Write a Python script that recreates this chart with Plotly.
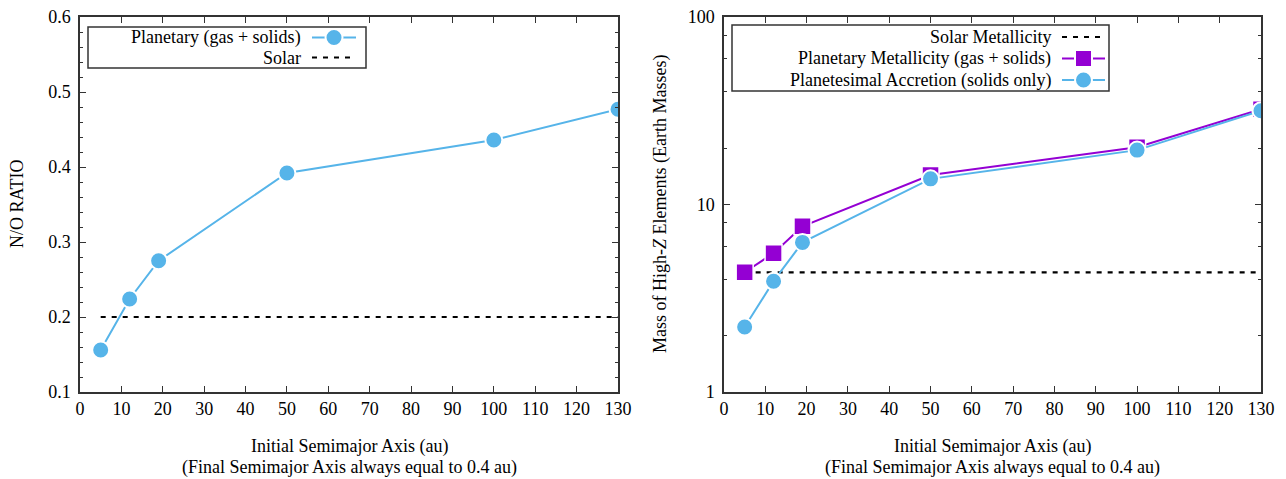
import plotly.graph_objects as go

# ---- data ----
a_init = [5, 12, 19, 50, 100, 130]
no_ratio = [0.156, 0.224, 0.275, 0.392, 0.436, 0.477]
solar_no = 0.2
solar_x = [5, 130]

planet_metal = [4.35, 5.5, 7.65, 14.35, 20.2, 32.2]
planetesimal = [2.22, 3.9, 6.28, 13.7, 19.5, 31.6]
solar_metal = 4.35

x_ticks = list(range(0, 131, 10))
left_y_ticks = [0.1, 0.2, 0.3, 0.4, 0.5, 0.6]
right_y_ticks = [1, 10, 100]
right_y_minor = [2, 4, 6, 8, 20, 40, 60, 80]

BLUE = "#56B4E9"
PURPLE = "#9400D3"
FONT = "Liberation Serif"
FS = 18
W, H = 1286, 479

fig = go.Figure()

# left panel
fig.add_trace(go.Scatter(x=solar_x, y=[solar_no] * 2, mode="lines",
                         line=dict(color="black", width=2.2, dash="5px,6px"),
                         xaxis="x", yaxis="y", showlegend=False))
fig.add_trace(go.Scatter(x=a_init, y=no_ratio, mode="lines+markers",
                         line=dict(color=BLUE, width=2),
                         marker=dict(size=17, color=BLUE, line=dict(color="white", width=2)),
                         xaxis="x", yaxis="y", showlegend=False))

# right panel
fig.add_trace(go.Scatter(x=solar_x, y=[solar_metal] * 2, mode="lines",
                         line=dict(color="black", width=2.2, dash="5px,6px"),
                         xaxis="x2", yaxis="y2", showlegend=False))
fig.add_trace(go.Scatter(x=a_init, y=planet_metal, mode="lines+markers",
                         line=dict(color=PURPLE, width=2),
                         marker=dict(size=17, symbol="square", color=PURPLE,
                                     line=dict(color="white", width=1.5)),
                         xaxis="x2", yaxis="y2", showlegend=False))
fig.add_trace(go.Scatter(x=a_init, y=planetesimal, mode="lines+markers",
                         line=dict(color=BLUE, width=2),
                         marker=dict(size=17, color=BLUE, line=dict(color="white", width=2)),
                         xaxis="x2", yaxis="y2", showlegend=False))

def px(x):
    return x / W

def py(y):
    return 1 - y / H

axis_common = dict(showline=True, linecolor="#333", linewidth=1.5, mirror="ticks",
                   ticks="inside", tickcolor="#333", ticklen=6, tickwidth=1.2,
                   showgrid=False, zeroline=False, automargin=False,
                   tickfont=dict(family=FONT, size=FS, color="black"))

ydom = [py(392), py(17)]
fig.update_layout(
    width=W, height=H, autosize=False,
    margin=dict(l=0, r=0, t=0, b=0),
    paper_bgcolor="white", plot_bgcolor="white",
    font=dict(family=FONT, size=FS, color="black"),
    xaxis=dict(domain=[px(80), px(618)], range=[0, 130], tickvals=x_ticks,
               anchor="y", **axis_common),
    yaxis=dict(domain=ydom, range=[0.1, 0.6], tickvals=left_y_ticks, tickformat=".1f",
               anchor="x", ticklabelstandoff=4,
               minor=dict(dtick=0.02, ticks="inside", ticklen=3, tickcolor="#333", showgrid=False),
               **axis_common),
    xaxis2=dict(domain=[px(724), px(1261)], range=[0, 130], tickvals=x_ticks,
                anchor="y2", **axis_common),
    yaxis2=dict(domain=ydom, type="log", range=[0, 2], tickvals=right_y_ticks,
                ticktext=[str(v) for v in right_y_ticks], anchor="x2", ticklabelstandoff=4,
                minor=dict(tickvals=right_y_minor, ticks="inside", ticklen=3, tickcolor="#333",
                           showgrid=False),
                **axis_common),
)

ann = []
shapes = []
tfont = dict(family=FONT, size=FS, color="black")

# axis titles
for cx in [(80 + 618) / 2, (724 + 1261) / 2]:
    ann.append(dict(x=px(cx), y=py(446), xref="paper", yref="paper",
                    text="Initial Semimajor Axis (au)", showarrow=False,
                    xanchor="center", yanchor="middle", font=tfont))
    ann.append(dict(x=px(cx), y=py(467), xref="paper", yref="paper",
                    text="(Final Semimajor Axis always equal to 0.4 au)", showarrow=False,
                    xanchor="center", yanchor="middle", font=tfont))
ann.append(dict(x=px(17), y=py(204), xref="paper", yref="paper", text="N/O RATIO",
                textangle=-90, showarrow=False, xanchor="center", yanchor="middle",
                font=tfont))
ann.append(dict(x=px(661), y=py(204), xref="paper", yref="paper",
                text="Mass of High-<i>Z</i> Elements (Earth Masses)",
                textangle=-90, showarrow=False, xanchor="center", yanchor="middle",
                font=tfont))

# ---- manual gnuplot-style legends ----
def legend_box(x0, x1, y0, y1):
    shapes.append(dict(type="rect", xref="paper", yref="paper",
                       x0=px(x0), x1=px(x1), y0=py(y1), y1=py(y0),
                       line=dict(color="#333", width=1.5), fillcolor="white", layer="above"))

def legend_row(text, tx, sx0, sx1, y, color, dash=None, marker=None):
    ann.append(dict(x=px(tx), y=py(y), xref="paper", yref="paper", text=text,
                    showarrow=False, xanchor="right", yanchor="middle", font=tfont))
    shapes.append(dict(type="line", xref="paper", yref="paper",
                       x0=px(sx0), x1=px(sx1), y0=py(y), y1=py(y),
                       line=dict(color=color, width=2.2 if dash else 2, dash=dash or "solid"),
                       layer="above"))
    if marker:
        cx = (sx0 + sx1) / 2
        r = 8.5
        shapes.append(dict(type="circle" if marker == "circle" else "rect",
                           xref="paper", yref="paper",
                           x0=px(cx - r), x1=px(cx + r), y0=py(y + r), y1=py(y - r),
                           fillcolor=color, line=dict(color="white", width=2), layer="above"))

legend_box(88, 366, 27, 68)
legend_row("Planetary (gas + solids)", 303, 312, 356, 37.5, BLUE, marker="circle")
legend_row("Solar", 303, 312, 356, 57.5, "black", dash="5px,6px")

legend_box(732, 1109, 25, 91)
legend_row("Solar Metallicity", 1053, 1062, 1105, 37, "black", dash="5px,6px")
legend_row("Planetary Metallicity (gas + solids)", 1053, 1062, 1105, 58.5, PURPLE, marker="square")
legend_row("Planetesimal Accretion (solids only)", 1053, 1062, 1105, 80, BLUE, marker="circle")

fig.update_layout(annotations=ann, shapes=shapes)
fig.write_html("out.html")
